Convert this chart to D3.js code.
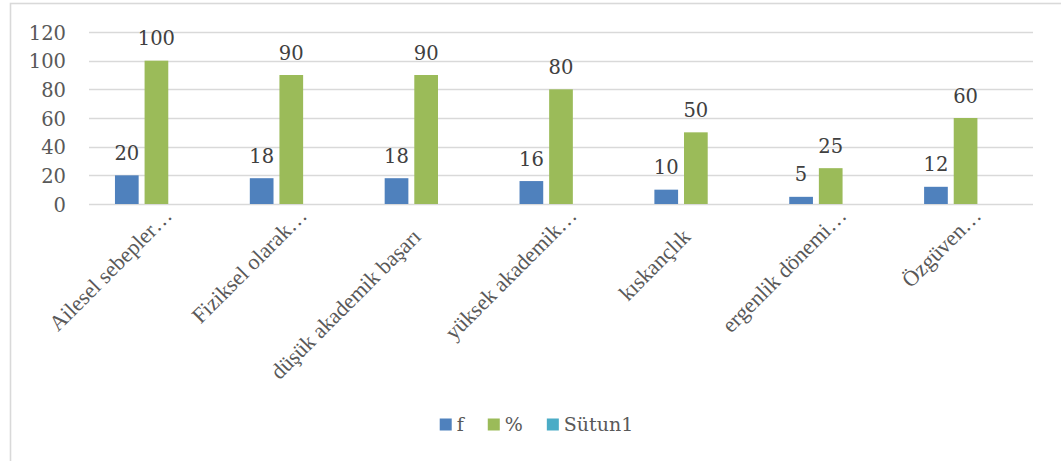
<!DOCTYPE html>
<html><head><meta charset="utf-8">
<script src="https://cdn.jsdelivr.net/npm/d3@7"></script>
<style>
html,body{margin:0;padding:0;background:#fff;overflow:hidden;}
svg{display:block;}
</style></head>
<body>
<svg id="chart" width="1061" height="461"></svg>
<script>
const categories = ["Ailesel sebepler…","Fiziksel olarak…","düşük akademik başarı","yüksek akademik…","kıskançlık","ergenlik dönemi…","Özgüven…"];
const seriesNames = ["f","%","Sütun1"];
const fValues = [20,18,18,16,10,5,12];
const pctValues = [100,90,90,80,50,25,60];
const sutun1Values = [null,null,null,null,null,null,null];
const yTicks = [0,20,40,60,80,100,120];
const colors = ["#4F81BD","#9BBB59","#4BACC6"];

const svg = d3.select("#chart");
const frame = {left:10, top:3.5, right:1063};
const plot = {left:89, right:1033, top:32, bottom:204};

// chart frame
svg.append("rect").attr("x",frame.left+0.5).attr("y",frame.top).attr("width",1200).attr("height",1000)
  .attr("fill","#fff").attr("stroke","#D9D9D9").attr("stroke-width",1.6);

const y = d3.scaleLinear().domain([0,120]).range([plot.bottom, plot.top]);
const x0 = d3.scaleBand().domain(categories).range([plot.left, plot.right]).paddingInner(0.385).paddingOuter(0.1925);
const x1 = d3.scaleBand().domain(seriesNames).range([0, x0.bandwidth()]).paddingInner(0.2).paddingOuter(0);

// gridlines
svg.append("g").selectAll("line").data(yTicks).join("line")
  .attr("x1",plot.left).attr("x2",plot.right)
  .attr("y1",d=>Math.round(y(d))+0.5).attr("y2",d=>Math.round(y(d))+0.5)
  .attr("stroke","#D9D9D9").attr("stroke-width",1.5);

// y axis labels
const yAxis = d3.axisLeft(y).tickValues(yTicks).tickSize(0).tickPadding(0);
const gy = svg.append("g").attr("transform",`translate(66,0)`).call(yAxis);
gy.select(".domain").remove();
gy.selectAll("text").attr("font-family","DejaVu Serif").attr("font-size",19.5).attr("fill","#595959").attr("dy","0.36em");

const data = categories.map((c,i)=>({cat:c, vals:[fValues[i], pctValues[i], sutun1Values[i]]}));

const groups = svg.append("g").selectAll("g").data(data).join("g")
  .attr("transform",d=>`translate(${x0(d.cat)},0)`);

groups.selectAll("rect").data(d=>d.vals.map((v,j)=>({s:seriesNames[j], v, j})).filter(e=>e.v!=null)).join("rect")
  .attr("x",e=>x1(e.s)).attr("width",x1.bandwidth())
  .attr("y",e=>y(e.v)).attr("height",e=>y(0)-y(e.v))
  .attr("fill",e=>colors[e.j]);

groups.selectAll("text").data(d=>d.vals.map((v,j)=>({s:seriesNames[j], v, j})).filter(e=>e.v!=null)).join("text")
  .attr("x",e=>x1(e.s)+x1.bandwidth()/2).attr("y",e=>y(e.v)-15.5)
  .attr("text-anchor","middle").attr("font-family","DejaVu Serif").attr("font-size",19.5).attr("fill","#404040")
  .text(e=>e.v);

// category labels, rotated -45
svg.append("g").selectAll("text").data(categories).join("text")
  .attr("transform",d=>{
    const cx = x0(d)+x0.bandwidth()/2;
    const trunc = d.endsWith("…");
    const ax = trunc ? cx+17 : cx-4;
    const ay = trunc ? 217 : 238;
    return `translate(${ax},${ay}) rotate(-45)`;
  })
  .attr("text-anchor","end").attr("font-family","Liberation Serif").attr("font-size",22).attr("fill","#595959")
  .text(d=>d);

// legend
const leg = svg.append("g");
const items = leg.selectAll("g").data(seriesNames).join("g");
items.append("rect").attr("width",12).attr("height",12).attr("y",418.5).attr("fill",(d,i)=>colors[i]);
items.append("text").attr("x",17).attr("y",431).attr("font-family","DejaVu Serif").attr("font-size",19).attr("fill","#595959").text(d=>d);
const gap = 24;
let cur = 0; const pos = [];
items.each(function(d){ const tw = d3.select(this).select("text").node().getComputedTextLength(); pos.push(cur); cur += 17 + tw + gap; });
const total = cur - gap;
const start = (frame.left + frame.right)/2 - total/2;
items.attr("transform",(d,i)=>`translate(${start+pos[i]},0)`);
</script>
</body></html>
